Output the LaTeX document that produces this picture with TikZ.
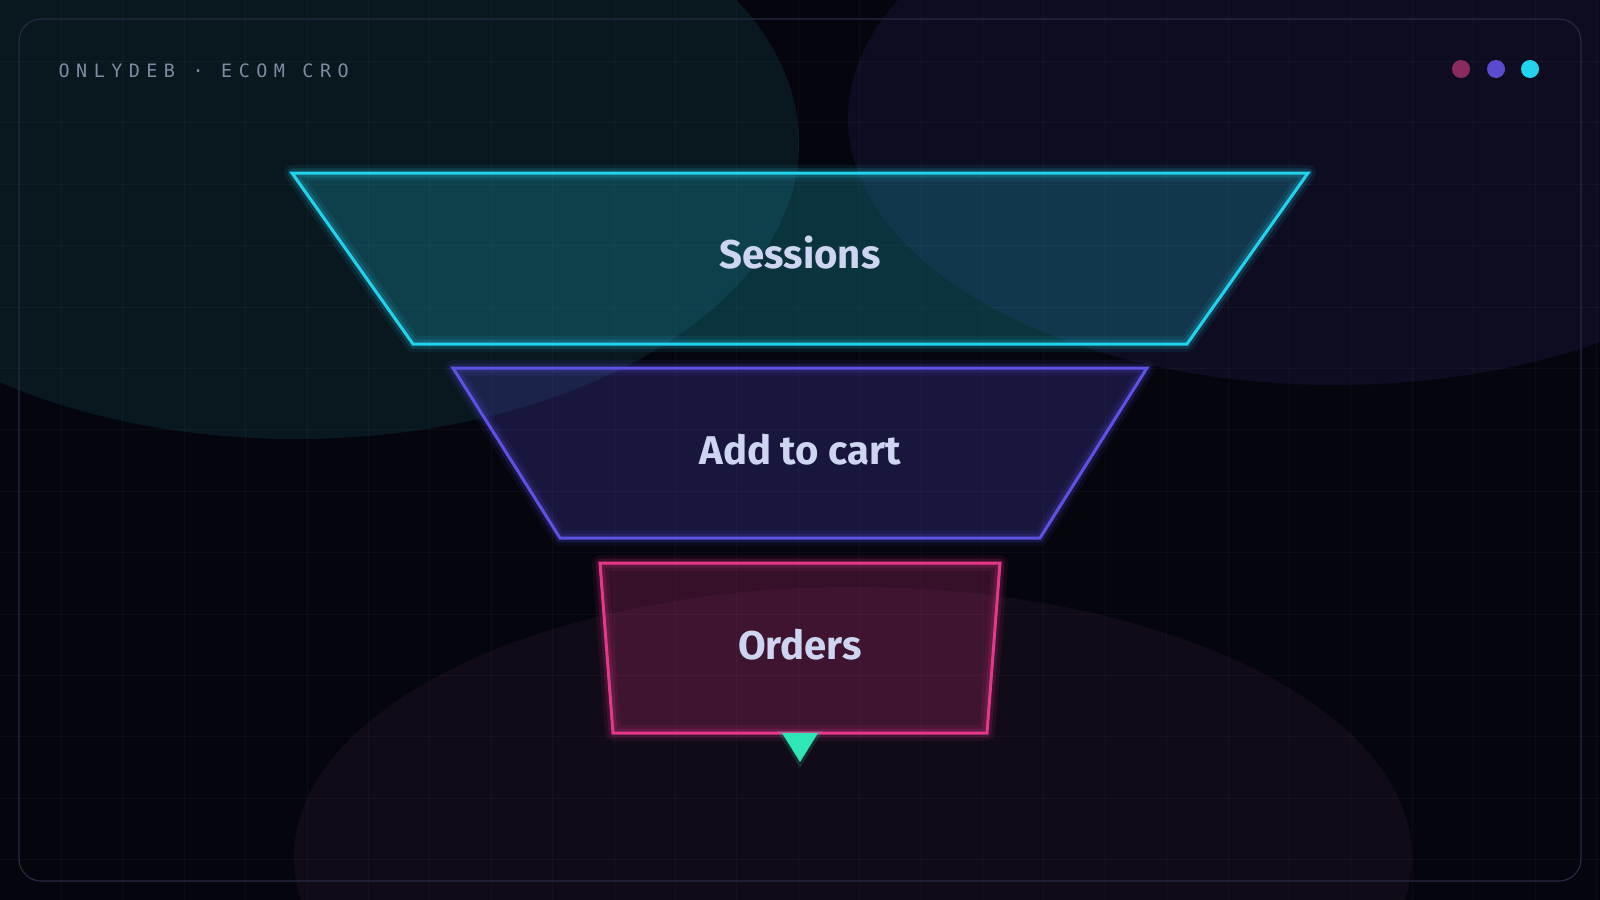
\documentclass[tikz,border=0pt]{standalone}
\usepackage{fontspec}
\setmainfont{Fira Sans}
\newfontfamily\headfont{DejaVu Sans Mono}[LetterSpace=35]
\usetikzlibrary{positioning}

\definecolor{bgbase}{HTML}{05060D}
\definecolor{blobteal}{HTML}{09171F}
\definecolor{blobviolet}{HTML}{0E0C20}
\definecolor{blobwine}{HTML}{110B17}
\definecolor{framecol}{HTML}{262A42}
\definecolor{headcol}{HTML}{7E8CA2}
\definecolor{labelcol}{HTML}{CDD5F0}
\definecolor{cyanline}{HTML}{22D3EE}
\definecolor{violetline}{HTML}{5E52E6}
\definecolor{pinkline}{HTML}{E5388A}
\definecolor{mintarrow}{HTML}{2EE6B6}
\definecolor{dotpink}{HTML}{8B2A5F}
\definecolor{dotviolet}{HTML}{5B4BCF}

\tikzset{
  neon/.style={draw=#1, line width=0.03cm,
    preaction={draw=#1, line width=0.16cm, opacity=0.08, line join=round},
    preaction={draw=#1, line width=0.09cm, opacity=0.16, line join=round}},
  stagefill/.style={fill=#1, opacity=0.22},
  stagelabel/.style={anchor=base, text=labelcol,
    font=\fontsize{11.4pt}{13pt}\selectfont\bfseries},
}

\begin{document}
\begin{tikzpicture}[x=0.01cm, y=-0.01cm]

  \useasboundingbox (0,0) rectangle (1600,900);
  \clip (0,0) rectangle (1600,900);
  \fill[bgbase] (0,0) rectangle (1600,900); %GROUND

  % soft blobs
  \fill[blobteal] (296,143) ellipse [x radius=503, y radius=296];
  \fill[blobviolet] (1335,118) ellipse [x radius=487, y radius=267];
  \fill[blobwine] (853,857) ellipse [x radius=559, y radius=270];

  % grid
  \foreach \i in {1,...,26}
    \draw[white, opacity=0.03, line width=0.01cm] ({\i*61.4},0) -- ({\i*61.4},900);
  \foreach \j in {1,...,14}
    \draw[white, opacity=0.03, line width=0.01cm] (0,{\j*61.4}) -- (1600,{\j*61.4});

  \draw[framecol, line width=0.012cm, rounded corners=0.22cm] (19,19) rectangle (1581,881); %FRAME

  \node[anchor=base west, inner sep=0, text=headcol, font=\headfont\fontsize{5.24pt}{6pt}\selectfont]
    (head) at (58,77.7) {ONLYDEB · ECOM CRO};

  \fill[dotpink] (1461,69) circle [radius=9];
  \fill[dotviolet] (1496,69) circle [radius=9];
  \fill[cyanline] (1530,69) circle [radius=9];

  % funnel corners
  \coordinate (sesTL) at (292,173);
  \coordinate (sesTR) at (1308,173);
  \coordinate (sesBR) at (1187,344);
  \coordinate (sesBL) at (413,344);
  \coordinate (cartTL) at (453,368);
  \coordinate (cartTR) at (1147,368);
  \coordinate (cartBR) at (1040,538);
  \coordinate (cartBL) at (560,538);
  \coordinate (ordTL) at (600,563);
  \coordinate (ordTR) at (1000,563);
  \coordinate (ordBR) at (987,733);
  \coordinate (ordBL) at (613,733);
  \coordinate (ordBot) at (800,733);

  \fill[stagefill=cyanline] (sesTL) -- (sesTR) -- (sesBR) -- (sesBL) -- cycle;
  \draw[neon=cyanline] (sesTL) -- (sesTR) -- (sesBR) -- (sesBL) -- cycle; %SESSIONS
  \fill[stagefill=violetline] (cartTL) -- (cartTR) -- (cartBR) -- (cartBL) -- cycle;
  \draw[neon=violetline] (cartTL) -- (cartTR) -- (cartBR) -- (cartBL) -- cycle; %CART
  \fill[stagefill=pinkline] (ordTL) -- (ordTR) -- (ordBR) -- (ordBL) -- cycle;
  \draw[neon=pinkline] (ordTL) -- (ordTR) -- (ordBR) -- (ordBL) -- cycle; %ORDERS

  \node[stagelabel] (sessions) at (800,268) {Sessions};
  \node[stagelabel] (cart) at (800,464) {Add to cart};
  \node[stagelabel] (orders) at (800,659) {Orders};

  % outlet marker
  \fill[mintarrow, opacity=0.15, shift={(ordBot)}] (-23,-2) -- (23,-2) -- (0,35) -- cycle;
  \fill[mintarrow, shift={(ordBot)}] (-18,0) -- (18,0) -- (0,29) -- cycle;

\end{tikzpicture}
\end{document}
